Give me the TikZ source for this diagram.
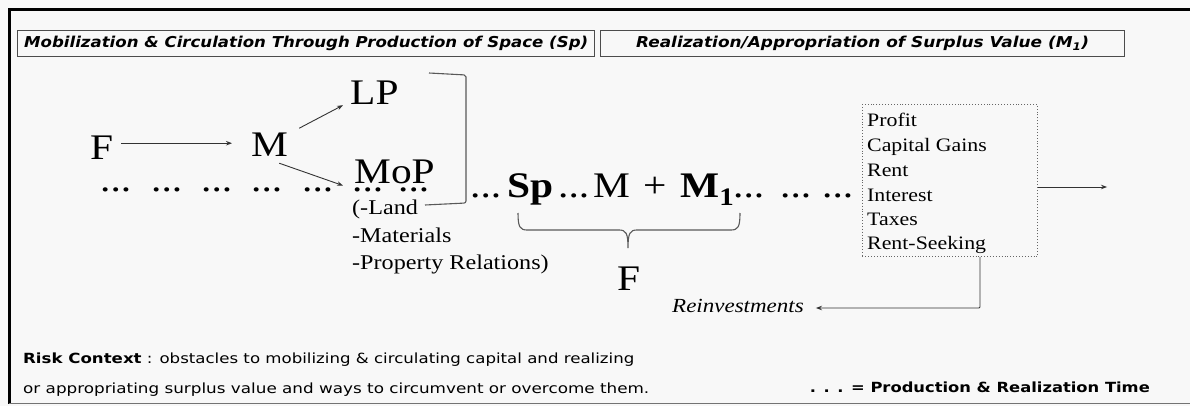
\documentclass[tikz,border=0pt]{standalone}
\usepackage{fontspec}
\usepackage{graphicx}
\setmainfont[FakeStretch=1.15]{Liberation Serif}
\newfontfamily\vsans{DejaVu Sans}
\usetikzlibrary{arrows.meta,calc}
\definecolor{bg}{HTML}{F8F8F8}
\definecolor{ln}{HTML}{333333}
\newcommand{\fitw}[2]{\resizebox{#1}{\height}{#2}}
\tikzset{
  big/.style={font=\fontsize{36}{40}\selectfont, inner sep=0pt, anchor=base west},
  sm/.style={font=\fontsize{21}{24}\selectfont, inner sep=0pt, anchor=base west},
  lst/.style={font=\fontsize{19}{24}\selectfont, inner sep=0pt, anchor=base west},
  arr/.style={-{Stealth[length=6pt,width=4.5pt]}, line width=0.9pt, draw=ln},
  brk/.style={line width=1.1pt, draw=black!65, rounded corners=2pt},
  ttl/.style={draw=black!70, line width=1.3pt, minimum height=26pt, inner sep=0pt, anchor=north west,
              font=\vsans\bfseries\itshape\fontsize{15}{18}\selectfont},
  foot/.style={font=\vsans\fontsize{14}{16}\selectfont, inner sep=0pt},
}
\begin{document}
\begin{tikzpicture}[x=1pt,y=-1pt]
\useasboundingbox (0,0) rectangle (1190,406);
\fill[bg] (0,0) rectangle (1190,406);
% outer frame
\draw[line width=3pt] (1190,10) -- (9.5,10) -- (9.5,404);
\draw[black!55, line width=1pt] (9,403.5) -- (1190,403.5);
% titles
\node[ttl, minimum width=577pt] (t1) at (17,30) {\fitw{564pt}{Mobilization \& Circulation Through Production of Space (Sp)}};
\node[ttl, minimum width=524pt] (t2) at (600,30) {\fitw{453pt}{Realization/Appropriation of Surplus Value (M\textsubscript{1})}};
% left part
\node[big] (F) at (90,160) {F};
\node[big] (M) at (251,157) {M};
\node[big] (LP) at (350,105) {LP};
\node[big] (MoP) at (354,183) {MoP};
\draw[arr] ([shift={(8,-5)}]F.east) -- ([shift={(-19,-2)}]M.west);
\draw[arr] ([shift={(11,-5)}]M.north east) -- ([shift={(-7,0)}]LP.south west);
\draw[arr] ([shift={(-9,6)}]M.south east) -- ([shift={(-11,2)}]MoP.south west);
\foreach \i/\x in {1/100,2/151,3/201,4/251,5/302,6/352,7/398}
  \node[big] (d\i) at (\x,191) {...};
\node[sm] (land) at (352,214) {(-Land};
\node[sm] (mat) at (352,242) {-Materials};
\node[sm] (prop) at (352,269) {-Property Relations)};
\coordinate (b1) at (429,73);
\coordinate (b2) at (466,75);
\coordinate (b3) at (466,203);
\coordinate (b4) at (425,205);
\draw[brk] (b1) -- (b2) -- (b3) -- (b4);
% middle row
\node[big] (e1) at (470,197) {...};
\node[big] (Sp) at (507,197) {\textbf{Sp}};
\node[big] (e2) at (558,197) {...};
\node[big] (Mm) at (593,197) {M};
\node[big] (plus) at (643,197) {+};
\node[big] (M1) at (680,197) {\textbf{M\textsubscript{1}}};
\node[big] (e3) at (733,197) {...};
\node[big] (e4) at (780,197) {...};
\node[big] (e5) at (822,197) {...};
% brace
\draw[brk, rounded corners=0pt] (518,213) .. controls (518,227) and (520,230) .. (527,230) -- (619,230)
  .. controls (626,230) and (628,233) .. (628,248)
  .. controls (628,233) and (630,230) .. (637,230) -- (731,230)
  .. controls (738,230) and (740,227) .. (740,213);
\node[big] (F2) at (617,290) {F};
% box
\node[draw=black!60, dotted, line width=0.9pt, minimum width=175pt, minimum height=152pt, inner sep=0pt, anchor=north west] (box) at (862,104) {};
\node[lst] (p1) at (867,127) {Profit};
\node[lst] (p2) at (867,152) {Capital Gains};
\node[lst] (p3) at (867,176) {Rent};
\node[lst] (p4) at (867,201) {Interest};
\node[lst] (p5) at (867,225) {Taxes};
\node[lst] (p6) at (867,249) {Rent-Seeking};
\coordinate (outtip) at (1107,187);
\draw[arr] (box.east |- outtip) -- (outtip);
\node[sm, font=\fontsize{20}{24}\selectfont\itshape] (rein) at (672,312) {Reinvestments};
\coordinate (rvx) at (980,308);
\draw[arr, rounded corners=1pt] (box.south -| rvx) |- ([xshift=12pt]rein.east |- rvx);
% footer
\node[foot, anchor=base west] (r1) at (23,363) {\fitw{611pt}{\textbf{Risk Context} : obstacles to mobilizing \& circulating capital and realizing}};
\node[foot, anchor=base west] (r2) at (23,393) {\fitw{626pt}{or appropriating surplus value and ways to circumvent or overcome them.}};
\node[foot, anchor=base east] (r3) at (1150,392) {\fitw{340pt}{\textbf{. . . = Production \& Realization Time}}};
\end{tikzpicture}
\end{document}
